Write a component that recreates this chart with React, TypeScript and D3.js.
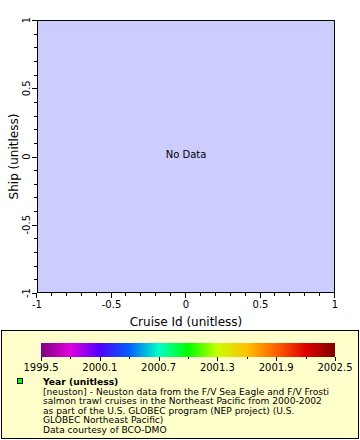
import React, { useEffect, useRef } from 'react';
import * as d3 from 'd3';

const xDomain = [-1, 1];
const yDomain = [-1, 1];
const majorTicks = [-1, -0.5, 0, 0.5, 1];
const tickLabels = ['-1', '-0.5', '0', '0.5', '1'];
const yearDomain = [1999.5, 2002.5];
const yearTicks = [1999.5, 2000.1, 2000.7, 2001.3, 2001.9, 2002.5];
const yearColors = ['#800080', '#e000e0', '#5000ff', '#0060ff', '#00ffc8', '#00ff00', '#c8ff00', '#ffc000', '#ff6000', '#e00000', '#800000'];
const legendLines = [
  '[neuston] - Neuston data from the F/V Sea Eagle and F/V Frosti',
  'salmon trawl cruises in the Northeast Pacific from 2000-2002',
  'as part of the U.S. GLOBEC program (NEP project) (U.S.',
  'GLOBEC Northeast Pacific)',
  'Data courtesy of BCO-DMO',
];

const App = () => {
  const svgRef = useRef(null);

  useEffect(() => {
    const svg = d3.select(svgRef.current);
    svg.selectAll('*').remove();
    const font = 'DejaVu Sans';
    const m = { left: 37, right: 335, top: 20, bottom: 293 };

    const x = d3.scaleLinear().domain(xDomain).range([m.left, m.right]);
    const y = d3.scaleLinear().domain(yDomain).range([m.bottom, m.top]);

    // plot background
    svg.append('rect')
      .attr('x', m.left).attr('y', m.top)
      .attr('width', m.right - m.left).attr('height', m.bottom - m.top)
      .attr('fill', '#ccccff');

    svg.append('rect')
      .attr('x', m.left + 0.5).attr('y', m.top + 0.5)
      .attr('width', m.right - m.left - 1).attr('height', m.bottom - m.top - 1)
      .attr('fill', 'none').attr('stroke', '#000').attr('stroke-width', 1);

    // ticks every 0.1, longer at major ones
    const minor = d3.range(-10, 11).map(i => i / 10);
    const isMajor = (v: number) => Math.abs(v * 2 - Math.round(v * 2)) < 1e-9;

    minor.forEach(v => {
      const len = isMajor(v) ? 5 : 3;
      svg.append('line')
        .attr('x1', m.left).attr('x2', m.left - len)
        .attr('y1', Math.round(y(v)) + 0.5).attr('y2', Math.round(y(v)) + 0.5)
        .attr('stroke', '#000');
      svg.append('line')
        .attr('x1', Math.round(x(v)) - 0.5).attr('x2', Math.round(x(v)) - 0.5)
        .attr('y1', m.bottom).attr('y2', m.bottom + len)
        .attr('stroke', '#000');
    });

    majorTicks.forEach((v, i) => {
      svg.append('text')
        .attr('transform', `translate(${m.left - 7},${y(v)}) rotate(-90)`)
        .attr('text-anchor', 'middle')
        .attr('font-family', font).attr('font-size', 10)
        .text(tickLabels[i]);
      svg.append('text')
        .attr('x', x(v)).attr('y', m.bottom + 15)
        .attr('text-anchor', 'middle')
        .attr('font-family', font).attr('font-size', 10)
        .text(tickLabels[i]);
    });

    svg.append('text')
      .attr('x', (m.left + m.right) / 2).attr('y', 326)
      .attr('text-anchor', 'middle')
      .attr('font-family', font).attr('font-size', 12)
      .text('Cruise Id (unitless)');

    svg.append('text')
      .attr('transform', `translate(18,${(m.top + m.bottom) / 2}) rotate(-90)`)
      .attr('text-anchor', 'middle')
      .attr('font-family', font).attr('font-size', 12)
      .text('Ship (unitless)');

    svg.append('text')
      .attr('x', x(0)).attr('y', y(0) + 1)
      .attr('text-anchor', 'middle')
      .attr('font-family', font).attr('font-size', 10)
      .text('No Data');

    // legend box
    svg.append('rect')
      .attr('x', 1.5).attr('y', 330.5).attr('width', 357).attr('height', 108)
      .attr('fill', '#ffffcc').attr('stroke', '#000');

    // color bar
    const cx = d3.scaleLinear().domain(yearDomain).range([41, 335]);
    const grad = svg.append('defs').append('linearGradient').attr('id', 'yr');
    yearColors.forEach((c, i) => {
      grad.append('stop').attr('offset', `${(i / (yearColors.length - 1)) * 100}%`).attr('stop-color', c);
    });
    svg.append('rect')
      .attr('x', cx(yearDomain[0])).attr('y', 343)
      .attr('width', cx(yearDomain[1]) - cx(yearDomain[0])).attr('height', 14)
      .attr('fill', 'url(#yr)');
    d3.range(0, 11).forEach(i => {
      const v = yearDomain[0] + i * 0.3;
      const px = Math.round(cx(v)) + 0.5;
      svg.append('line')
        .attr('x1', px).attr('x2', px)
        .attr('y1', 357).attr('y2', i % 2 === 0 ? 361 : 359)
        .attr('stroke', '#000');
    });
    yearTicks.forEach(v => {
      svg.append('text')
        .attr('x', cx(v)).attr('y', 371)
        .attr('text-anchor', 'middle')
        .attr('font-family', font).attr('font-size', 10)
        .text(v.toFixed(1));
    });

    // legend entry
    svg.append('rect')
      .attr('x', 17.5).attr('y', 378.5).attr('width', 5).attr('height', 5)
      .attr('fill', '#00ff00').attr('stroke', '#000');
    svg.append('text')
      .attr('x', 43).attr('y', 385)
      .attr('font-family', font).attr('font-size', 9.2).attr('font-weight', 'bold')
      .text('Year (unitless)');
    legendLines.forEach((t, i) => {
      svg.append('text')
        .attr('x', 43).attr('y', 394.5 + i * 9.5)
        .attr('font-family', font).attr('font-size', 9.1)
        .text(t);
    });
  }, []);

  return (
    <svg ref={svgRef} width={360} height={440} style={{ position: 'absolute', left: 0, top: 0 }}></svg>
  );
};

export default App;
